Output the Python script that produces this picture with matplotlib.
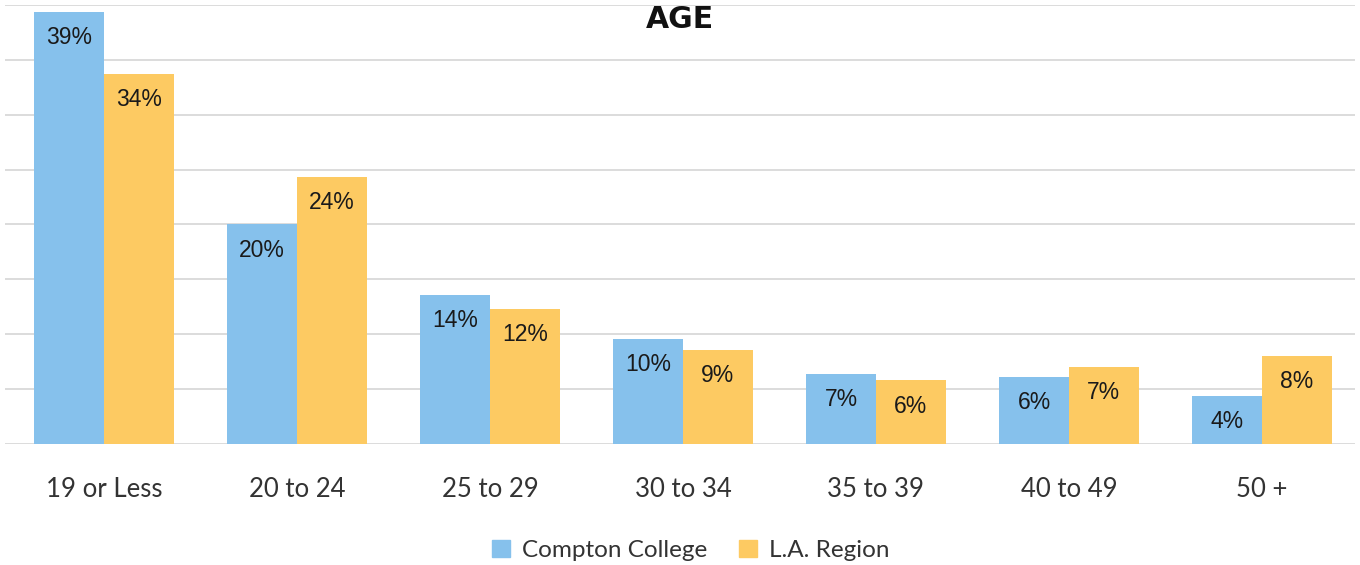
import numpy as np
import matplotlib
matplotlib.use("Agg")
import matplotlib.pyplot as plt
from matplotlib.patches import Patch

# data
categories = ["19 or Less", "20 to 24", "25 to 29", "30 to 34", "35 to 39", "40 to 49", "50 +"]
compton = [39.4, 20.0, 13.6, 9.6, 6.4, 6.1, 4.4]
la_region = [33.7, 24.3, 12.3, 8.6, 5.8, 7.0, 8.0]
compton_labels = ["39%", "20%", "14%", "10%", "7%", "6%", "4%"]
la_labels = ["34%", "24%", "12%", "9%", "6%", "7%", "8%"]

blue = "#86c1ec"
yellow = "#fdca62"
text_col = "#333333"

fig = plt.figure(figsize=(13.6, 5.65), dpi=100)
ax = fig.add_axes([0.0037, 0.2142, 0.9926, 0.777])

x = np.arange(len(categories))
w = 0.362
b1 = ax.bar(x - w / 2, compton, w, color=blue, zorder=2)
b2 = ax.bar(x + w / 2, la_region, w, color=yellow, zorder=2)

for bars, labels in ((b1, compton_labels), (b2, la_labels)):
    for rect, lab in zip(bars, labels):
        ax.annotate(lab, (rect.get_x() + rect.get_width() / 2, rect.get_height()),
                    xytext=(0, -18.5), textcoords="offset points",
                    ha="center", va="center", fontsize=16.5,
                    family="Liberation Sans", color="#1a1a1a", zorder=3)

ax.set_xlim(-0.513, 6.482)
ax.set_ylim(0, 40)
ax.set_yticks(np.arange(0, 41, 5))
ax.yaxis.grid(True, color="#dcdcdc", linewidth=1.4, zorder=0)
ax.set_yticklabels([])
ax.tick_params(axis="y", length=0)
ax.tick_params(axis="x", length=0, pad=24)
ax.set_xticks(x)
ax.set_xticklabels(categories, fontsize=18.5, family="Lato", color=text_col)
for s in ax.spines.values():
    s.set_visible(False)

ax.text(0.5, 0.967, "AGE", transform=ax.transAxes, ha="center", va="center",
        fontsize=21.5, fontweight="bold", family="DejaVu Sans", color="#111111")

handles = [Patch(color=blue, label="Compton College"),
           Patch(color=yellow, label="L.A. Region")]
leg = fig.legend(handles=handles, loc="center", bbox_to_anchor=(0.508, 0.026),
                 ncol=2, frameon=False, handlelength=0.75, handleheight=0.75,
                 handletextpad=0.5, columnspacing=1.3,
                 prop={"family": "Lato", "size": 17.5})
for t in leg.get_texts():
    t.set_color(text_col)

fig.savefig("out.png", dpi=100)
